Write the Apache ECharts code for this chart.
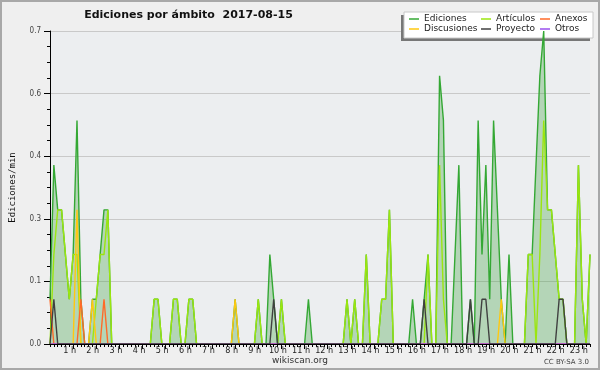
<!DOCTYPE html>
<html><head><meta charset="utf-8">
<script src="https://cdn.jsdelivr.net/npm/echarts/dist/echarts.min.js"></script>
<style>html,body{margin:0;padding:0;background:#efefef}#c{width:600px;height:370px}</style>
</head><body><div id="c"></div>
<script>
// 10-minute bins from 00:00 to 23:20, values in edits per minute
const binHours = 1 / 6;
const lastBin = 140;
const hourLabels = ['1 h','2 h','3 h','4 h','5 h','6 h','7 h','8 h','9 h','10 h','11 h','12 h','13 h','14 h','15 h','16 h','17 h','18 h','19 h','20 h','21 h','22 h','23 h'];
const yTickLabels = ['0.0','0.1','0.3','0.4','0.6','0.7'];

const ediciones = [
 0.1,0.4,0.3,0.3,0.2,0.1,0.2,0.5,0.1,0,
 0,0.1,0.1,0.2,0.3,0.3,0,0,0,0,
 0,0,0,0,0,0,0,0.1,0.1,0,
 0,0,0.1,0.1,0,0,0.1,0.1,0,0,
 0,0,0,0,0,0,0,0,0.1,0,
 0,0,0,0,0.1,0,0,0.2,0.1,0,
 0.1,0,0,0,0,0,0,0.1,0,0,
 0,0,0,0,0,0,0,0.1,0,0.1,
 0,0,0.2,0,0,0,0.1,0.1,0.3,0,
 0,0,0,0,0.1,0,0,0.1,0.2,0,
 0,0.6,0.5,0,0,0.2,0.4,0,0,0.1,
 0,0.5,0.2,0.4,0.1,0.5,0.3,0.1,0,0.2,
 0,0,0,0,0.2,0.2,0.4,0.6,0.7,0.3,
 0.3,0.2,0.1,0.1,0,0,0,0.4,0.1,0,0.2
];
const articulos = [
 0,0.2,0.3,0.3,0.2,0.1,0.2,0.2,0,0,
 0,0,0.1,0.2,0.2,0.3,0,0,0,0,
 0,0,0,0,0,0,0,0.1,0.1,0,
 0,0,0.1,0.1,0,0,0.1,0.1,0,0,
 0,0,0,0,0,0,0,0,0,0,
 0,0,0,0,0.1,0,0,0,0,0,
 0.1,0,0,0,0,0,0,0,0,0,
 0,0,0,0,0,0,0,0.1,0,0.1,
 0,0,0.2,0,0,0,0.1,0.1,0.3,0,
 0,0,0,0,0,0,0,0,0.2,0,
 0,0.4,0.1,0,0,0,0,0,0,0,
 0,0,0,0,0,0,0,0,0,0,
 0,0,0,0,0.2,0.2,0,0.2,0.5,0.3,
 0.3,0.2,0.1,0.1,0,0,0,0.4,0.1,0,0.2
];
const anexos = [
 0.1,0,0,0,0,0,0,0,0.1,0,
 0,0,0,0,0.1,0,0,0,0,0,
 0,0,0,0,0,0,0,0,0,0,
 0,0,0,0,0,0,0,0,0,0,
 0,0,0,0,0,0,0,0,0,0,
 0,0,0,0,0,0,0,0,0,0,
 0,0,0,0,0,0,0,0,0,0,
 0,0,0,0,0,0,0,0,0,0,
 0,0,0,0,0,0,0,0,0,0,
 0,0,0,0,0,0,0,0,0,0,
 0,0,0,0,0,0,0,0,0,0,
 0,0,0,0,0,0,0,0,0,0,
 0,0,0,0,0,0,0,0,0,0,
 0,0,0,0,0,0,0,0,0,0,0
];
const discusiones = [
 0,0,0,0,0,0,0,0.3,0,0,
 0,0.1,0,0,0,0,0,0,0,0,
 0,0,0,0,0,0,0,0,0,0,
 0,0,0,0,0,0,0,0,0,0,
 0,0,0,0,0,0,0,0,0.1,0,
 0,0,0,0,0,0,0,0,0,0,
 0,0,0,0,0,0,0,0,0,0,
 0,0,0,0,0,0,0,0,0,0,
 0,0,0,0,0,0,0,0,0,0,
 0,0,0,0,0,0,0,0,0,0,
 0,0,0,0,0,0,0,0,0,0,
 0,0,0,0,0,0,0,0.1,0,0,
 0,0,0,0,0,0,0,0,0,0,
 0,0,0,0,0,0,0,0,0,0,0
];
const proyecto = [
 0,0.1,0,0,0,0,0,0,0,0,
 0,0,0,0,0,0,0,0,0,0,
 0,0,0,0,0,0,0,0,0,0,
 0,0,0,0,0,0,0,0,0,0,
 0,0,0,0,0,0,0,0,0,0,
 0,0,0,0,0,0,0,0,0.1,0,
 0,0,0,0,0,0,0,0,0,0,
 0,0,0,0,0,0,0,0,0,0,
 0,0,0,0,0,0,0,0,0,0,
 0,0,0,0,0,0,0,0.1,0,0,
 0,0,0,0,0,0,0,0,0,0.1,
 0,0,0.1,0.1,0,0,0,0,0,0,
 0,0,0,0,0,0,0,0,0,0,
 0,0,0.1,0.1,0,0,0,0,0,0,0
];
const otros = [
 0,0,0,0,0,0,0,0,0,0, 0,0,0,0,0,0,0,0,0,0,
 0,0,0,0,0,0,0,0,0,0, 0,0,0,0,0,0,0,0,0,0,
 0,0,0,0,0,0,0,0,0,0, 0,0,0,0,0,0,0,0,0,0,
 0,0,0,0,0,0,0,0,0,0, 0,0,0,0,0,0,0,0,0,0,
 0,0,0,0,0,0,0,0,0,0, 0,0,0,0,0,0,0,0,0,0,
 0,0,0,0,0,0,0,0,0,0, 0,0,0,0,0,0,0,0,0,0,
 0,0,0,0,0,0,0,0,0,0, 0,0,0,0,0,0,0,0,0,0,0
];

const colors = {
  'Ediciones': '#34a834', 'Artículos': '#9be60f', 'Anexos': '#ff6a28',
  'Discusiones': '#ffc810', 'Proyecto': '#404040', 'Otros': '#9a50ee'
};
const toPairs = arr => arr.map((v, i) => [i * binHours, v]);
const dataByName = {
  'Ediciones': ediciones, 'Artículos': articulos, 'Anexos': anexos,
  'Discusiones': discusiones, 'Proyecto': proyecto, 'Otros': otros
};
const drawOrder = ['Ediciones','Artículos','Discusiones','Anexos','Otros','Proyecto'];

const series = drawOrder.map((name, k) => ({
  name: name, type: 'line', xAxisIndex: 0, yAxisIndex: 0,
  data: toPairs(dataByName[name]),
  showSymbol: false, symbol: 'none', smooth: false,
  color: colors[name], z: 5 + k,
  lineStyle: { width: 1.4, color: colors[name] },
  areaStyle: name === 'Ediciones' ? { color: 'rgba(60,160,60,0.45)', origin: 'start' } : undefined,
  emphasis: { disabled: true }, silent: true, animation: false
}));

const legendText = { fontSize: 9, fontFamily: 'DejaVu Sans', color: '#222', lineHeight: 9 };
const mkLegend = (names, left) => ({
  data: names, left: left, top: 14.5, orient: 'vertical', icon: 'rect',
  itemWidth: 10, itemHeight: 1.5, itemGap: 1, selectedMode: false, z: 10,
  textStyle: legendText, padding: 0
});

const chart = echarts.init(document.getElementById('c'), null, { renderer: 'canvas' });
chart.setOption({
  animation: false,
  backgroundColor: '#efefef',
  grid: { left: 46, right: 10, top: 31, bottom: 26, show: true, backgroundColor: '#eceef0', borderWidth: 0 },
  xAxis: [
    {
      type: 'value', min: 0, max: lastBin * binHours, interval: 1, position: 'bottom', z: 20,
      axisLine: { show: true, onZero: false, lineStyle: { color: '#000', width: 1 } },
      axisTick: { show: true, length: 5, lineStyle: { color: '#000' } },
      splitLine: { show: false },
      axisLabel: {
        show: true, margin: 2, fontSize: 9, fontFamily: 'DejaVu Sans Condensed, DejaVu Sans', color: '#222',
        padding: [0, 7, 0, 0], showMaxLabel: false, showMinLabel: false,
        formatter: v => { const h = Math.round(v); return (Math.abs(v - h) < 1e-6 && h >= 1 && h <= hourLabels.length) ? hourLabels[h - 1] : ''; }
      }
    },
    {
      type: 'value', min: 0, max: lastBin * binHours, interval: binHours, position: 'bottom', z: 20,
      axisLine: { show: false }, axisLabel: { show: false }, splitLine: { show: false },
      axisTick: { show: true, length: 3, lineStyle: { color: '#000' } }
    }
  ],
  yAxis: {
    type: 'value', min: 0, max: 0.7, interval: 0.14,
    name: 'Ediciones/min', nameLocation: 'middle', nameGap: 33, nameRotate: 90,
    nameTextStyle: { fontSize: 9, fontFamily: 'DejaVu Sans Mono', color: '#111' },
    axisLine: { show: true, lineStyle: { color: '#000' } },
    axisTick: { show: true, length: 6, lineStyle: { color: '#000' } },
    minorTick: { show: true, splitNumber: 4, length: 3, lineStyle: { color: '#000' } },
    splitLine: { show: true, lineStyle: { color: '#c9c9c9', width: 1 } },
    axisLabel: {
      margin: 9, fontSize: 8, fontFamily: 'DejaVu Sans Condensed, DejaVu Sans', color: '#444',
      formatter: v => yTickLabels[Math.round(v / 0.14)]
    }
  },
  legend: [
    mkLegend(['Ediciones', 'Discusiones'], 409),
    mkLegend(['Artículos', 'Proyecto'], 481),
    mkLegend(['Anexos', 'Otros'], 540)
  ],
  graphic: [
    { type: 'rect', z: 1, shape: { x: 401, y: 15, width: 189, height: 26 }, style: { fill: '#777' }, silent: true },
    { type: 'rect', z: 1, shape: { x: 404, y: 12, width: 189, height: 26 }, style: { fill: '#fff', stroke: '#c8c8c8', lineWidth: 1 }, silent: true },
    { type: 'text', z: 20, x: 188.5, y: 15, style: { text: 'Ediciones por ámbito  2017-08-15', font: 'bold 11px DejaVu Sans', fill: '#111', textAlign: 'center', textVerticalAlign: 'middle' } },
    { type: 'text', z: 20, x: 300, y: 361, style: { text: 'wikiscan.org', font: '9px DejaVu Sans', fill: '#333', textAlign: 'center', textVerticalAlign: 'middle' } },
    { type: 'text', z: 20, x: 589, y: 362, style: { text: 'CC BY-SA 3.0', font: '7px DejaVu Sans', fill: '#444', textAlign: 'right', textVerticalAlign: 'middle' } },
    { type: 'rect', z: 30, shape: { x: 1, y: 1, width: 598, height: 368 }, style: { fill: 'none', stroke: '#a8a8a8', lineWidth: 2 }, silent: true }
  ],
  series: series
});
</script>
</body></html>
